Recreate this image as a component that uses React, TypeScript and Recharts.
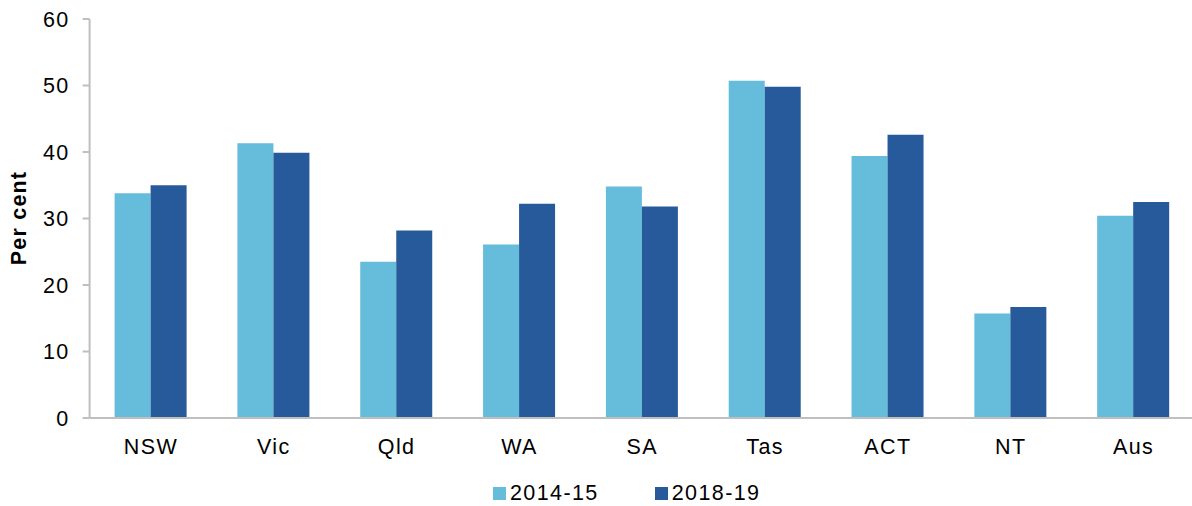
import { BarChart, Bar, XAxis, YAxis, Legend, Label } from 'recharts';

const categories = ['NSW', 'Vic', 'Qld', 'WA', 'SA', 'Tas', 'ACT', 'NT', 'Aus'];
const values201415 = [33.8, 41.3, 23.5, 26.1, 34.8, 50.7, 39.4, 15.7, 30.4];
const values201819 = [35.0, 39.9, 28.2, 32.2, 31.8, 49.8, 42.6, 16.7, 32.5];
const yTicks = [0, 10, 20, 30, 40, 50, 60];

const LIGHT = '#66bcdb';
const DARK = '#265a9a';
const AXIS = '#bfbfbf';
const FONT = '"Liberation Sans", Arial, sans-serif';
const textStyle = { fontSize: 21.5, fill: '#000', fontFamily: FONT, letterSpacing: 1.4 };

const data = categories.map((c, i) => ({
  name: c,
  '2014-15': values201415[i],
  '2018-19': values201819[i],
}));

function LegendContent() {
  const items = [
    { label: '2014-15', color: LIGHT },
    { label: '2018-19', color: DARK },
  ];
  return (
    <div style={{ display: 'flex', marginLeft: 493, fontFamily: FONT, fontSize: 21.5, letterSpacing: 1.4, color: '#000', lineHeight: '24px' }}>
      {items.map((it, i) => (
        <div key={it.label} style={{ display: 'flex', alignItems: 'center', marginRight: i === 0 ? 56 : 0 }}>
          <span style={{ width: 13, height: 13, background: it.color, marginRight: 4, display: 'inline-block' }} />
          <span>{it.label}</span>
        </div>
      ))}
    </div>
  );
}

export default function App() {
  return (
    <div style={{ position: 'absolute', left: 0, top: 0, background: '#fff' }}>
      <BarChart
        width={1192}
        height={506}
        data={data}
        margin={{ top: 19, right: -3, left: 0, bottom: 34 }}
        barGap={0}
        barSize={36}
      >
        <XAxis
          dataKey="name"
          axisLine={{ stroke: AXIS, strokeWidth: 2 }}
          tickLine={false}
          tickSize={0}
          tickMargin={21}
          tick={textStyle}
          interval={0}
        />
        <YAxis
          width={89.6}
          domain={[0, 60]}
          ticks={yTicks}
          axisLine={{ stroke: AXIS, strokeWidth: 2 }}
          tickLine={{ stroke: AXIS, strokeWidth: 2 }}
          tickSize={7}
          tickMargin={13}
          tick={textStyle}
        >
          <Label
            content={() => (
              <text
                x={19}
                y={218}
                transform="rotate(-90 19 218)"
                textAnchor="middle"
                dominantBaseline="central"
                fontFamily={FONT}
                fontSize={21.5}
                letterSpacing={1.2}
                fontWeight="bold"
                fill="#000"
              >
                Per cent
              </text>
            )}
          />
        </YAxis>
        <Legend
          content={<LegendContent />}
          wrapperStyle={{ top: 481, left: 0, width: 1192 }}
        />
        <Bar dataKey="2014-15" fill={LIGHT} isAnimationActive={false} />
        <Bar dataKey="2018-19" fill={DARK} isAnimationActive={false} />
      </BarChart>
    </div>
  );
}
